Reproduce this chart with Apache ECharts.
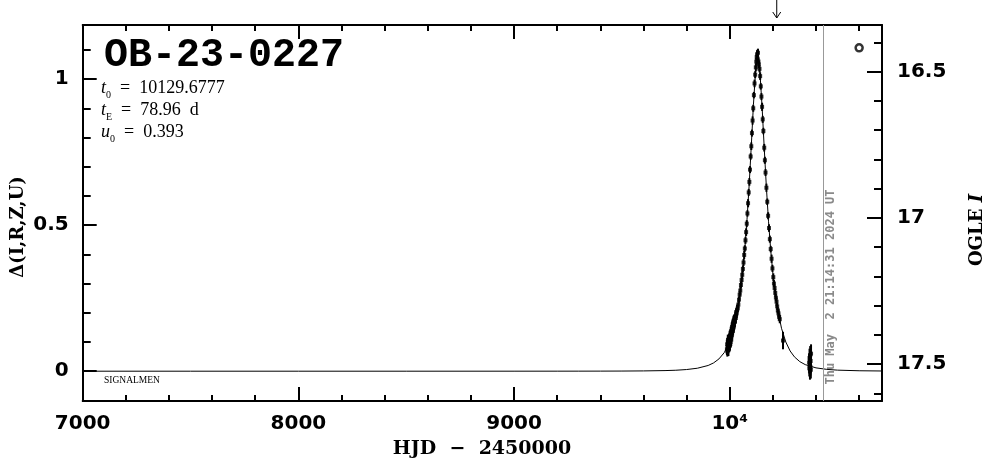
<!DOCTYPE html>
<html><head><meta charset="utf-8">
<script src="https://cdn.jsdelivr.net/npm/echarts@6/dist/echarts.min.js"></script>
<style>html,body{margin:0;padding:0;background:#fff}#c{width:986px;height:459px}</style>
</head><body><div id="c"></div>
<script>
// ---- data ----
const modelT = [7000,7500,8000,8500,9000,9200,9300,9400,9500,9600,9700,9750,9800,9850,9900,9925,9950,9975,10000,10020,10040,10050,10060,10070,10080,10090,10100,10110,10120,10125,10130,10135,10140,10150,10160,10170,10180,10190,10200,10210,10220,10240,10260,10280,10300,10325,10350,10400,10450,10500,10600,10706];
const modelD = [0,0,0,0.00001,0.00005,0.0001,0.0002,0.0003,0.0005,0.0010,0.0021,0.0033,0.0057,0.0102,0.0196,0.0283,0.0420,0.0640,0.1011,0.1488,0.2233,0.2750,0.3395,0.4197,0.5182,0.6366,0.7725,0.9137,1.0295,1.0635,1.0740,1.0604,1.0237,0.9047,0.7633,0.6284,0.5113,0.4140,0.3349,0.2713,0.2203,0.1470,0.0999,0.0693,0.0490,0.0327,0.0225,0.0114,0.0063,0.0036,0.0015,0.0007];

const obsT = [9987,9988,9989,9990,9991,9992,9993,9994,9995,9996,9997,9998,9999,10000,10001,10002,10003,10004,10005,10006,10007,10008,10009,10010,10011,10012,10013,10014,10015,10016,10017,10018,10019,10020,10022,10024,10026,10028,10030,10032,10034,
 10037,10040,10043,10046,10049,10052,10055,10058,10061,10064,10067,10070,10073,10076,10079,10082,10085,10088,10091,10094,10097,10100,10103,10106,10109,10112,10115,10118,10121,10123,10125,10127,10129,10131,10133,10135,
 10138,10141,10144,10147,10150,10153,10156,10160,10163,10166,10170,10174,10178,10182,10186,10190,10194,10198,10202,10205,10208,10211,10214,10217,10220,10223,10226,10229,10232,
 10247,
 10368,10369,10370,10371,10372,10373,10374,10375,10376,10377];
const obsD = [0.075,0.092,0.068,0.083,0.101,0.079,0.088,0.072,0.097,0.110,0.085,0.094,0.106,0.118,0.090,0.112,0.125,0.100,0.131,0.117,0.108,0.138,0.124,0.146,0.129,0.152,0.137,0.160,0.143,0.155,0.168,0.150,0.172,0.162,0.176,0.170,0.188,0.182,0.195,0.200,0.208,
 0.215,0.228,0.245,0.262,0.276,0.295,0.312,0.330,0.350,0.372,0.398,0.420,0.448,0.476,0.505,0.540,0.575,0.612,0.648,0.690,0.735,0.770,0.815,0.858,0.900,0.945,0.985,1.015,1.040,1.060,1.075,1.085,1.070,1.090,1.060,1.050,
 1.035,1.010,0.975,0.940,0.905,0.862,0.822,0.765,0.722,0.680,0.628,0.580,0.532,0.490,0.452,0.418,0.385,0.352,0.322,0.300,0.285,0.268,0.252,0.238,0.222,0.208,0.198,0.186,0.178,
 0.105,
 0.030,0.010,0.045,0.020,0.000,0.055,0.015,0.035,0.005,0.060];
const obsE = [0.020,0.022,0.018,0.020,0.024,0.019,0.021,0.020,0.022,0.018,0.020,0.023,0.019,0.021,0.020,0.022,0.018,0.020,0.021,0.019,0.022,0.020,0.018,0.021,0.020,0.019,0.022,0.020,0.018,0.021,0.020,0.019,0.020,0.022,0.018,0.020,0.021,0.019,0.020,0.018,0.020,
 0.012,0.013,0.011,0.012,0.014,0.012,0.011,0.013,0.012,0.012,0.014,0.011,0.012,0.013,0.012,0.011,0.014,0.012,0.013,0.012,0.011,0.013,0.012,0.014,0.012,0.011,0.013,0.012,0.014,0.012,0.013,0.015,0.012,0.014,0.013,0.012,
 0.012,0.013,0.011,0.012,0.014,0.012,0.011,0.013,0.012,0.012,0.014,0.011,0.012,0.013,0.012,0.011,0.014,0.012,0.013,0.012,0.011,0.013,0.012,0.014,0.012,0.011,0.013,0.012,0.014,
 0.030,
 0.030,0.028,0.032,0.030,0.029,0.031,0.030,0.028,0.030,0.032];

const baseCircle = [10600, 1.107];
const nowLineT = 10434;
const arrowT = 10218;

const xMajor = [7000,8000,9000,10000];
const xLabels = ['7000','8000','9000','10\u2074'];
const xMinor = [7200,7400,7600,7800,8000,8200,8400,8600,8800,9000,9200,9400,9600,9800,10000,10200,10400,10600];
const yMajor = [0,0.5,1];
const yLabels = ['0','0.5','1'];
const yMinor = [-0.1,0,0.1,0.2,0.3,0.4,0.5,0.6,0.7,0.8,0.9,1.0,1.1];
const magMajor = [16.5,17,17.5];
const magLabels = ['16.5','17','17.5'];
const magMinor = [16.4,16.5,16.6,16.7,16.8,16.9,17.0,17.1,17.2,17.3,17.4,17.5,17.6];

const X_MIN = 7000, X_MAX = 10706, Y_MIN = -0.102, Y_MAX = 1.185, M_MIN = 16.341, M_MAX = 17.626;

// ---- chart ----
const chart = echarts.init(document.getElementById('c'), null, {renderer:'canvas'});
const black = '#000';
const lblFont = {fontFamily:'DejaVu Sans', fontWeight:'bold', fontSize:20, color:black};
function xAx(pos, major, withLine, withLabel){
  return {type:'value', position:pos, min:X_MIN, max:X_MAX, gridIndex:0,
    axisLine:{show:withLine, onZero:false, lineStyle:{color:black, width:2}},
    axisTick:{show:true, inside:true, length: major?14:6, lineStyle:{color:black,width:2}, customValues: major?xMajor:xMinor},
    axisLabel:withLabel?Object.assign({show:true, margin:13, customValues:xMajor,
      formatter:(v)=>{const i=xMajor.indexOf(v);return i>=0?xLabels[i]:'';}}, lblFont):{show:false},
    splitLine:{show:false}, minorTick:{show:false}};
}
function yAx(pos, major, withLine, withLabel, mag){
  const mn = mag?M_MIN:Y_MIN, mx = mag?M_MAX:Y_MAX;
  const maj = mag?magMajor:yMajor, min_ = mag?magMinor:yMinor, labs = mag?magLabels:yLabels;
  return {type:'value', position:pos, min:mn, max:mx, inverse:!!mag, gridIndex:0,
    axisLine:{show:withLine, onZero:false, lineStyle:{color:black, width:2}},
    axisTick:{show:true, inside:true, length: major?(mag?15:14):8, lineStyle:{color:black,width:2}, customValues: major?maj:min_},
    axisLabel:withLabel?Object.assign({show:true, margin: mag?15:14, customValues:maj,
      formatter:(v)=>{for(let i=0;i<maj.length;i++){if(Math.abs(maj[i]-v)<1e-6)return labs[i];}return '';}}, lblFont):{show:false},
    splitLine:{show:false}, minorTick:{show:false}};
}

const option = {
  animation:false,
  backgroundColor:'#fff',
  grid:{left:82.7, right:104, top:25, bottom:58, containLabel:false},
  xAxis:[xAx('bottom',true,true,true), xAx('bottom',false,false,false), xAx('top',true,true,false), xAx('top',false,false,false)],
  yAxis:[yAx('left',true,true,true,false), yAx('left',false,false,false,false), yAx('right',true,true,true,true), yAx('right',false,false,false,true)],
  series:[
    {type:'line', name:'model', xAxisIndex:0, yAxisIndex:0, data:modelT.map((t,i)=>[t,modelD[i]]),
     showSymbol:false, symbol:'none', smooth:false, lineStyle:{color:black,width:1}, z:2,
     markLine:{silent:true, symbol:['none','none'], label:{show:false}, lineStyle:{color:'#999',width:1,type:'solid'},
       data:[{xAxis:nowLineT}]}},
    {type:'custom', name:'err', xAxisIndex:0, yAxisIndex:0, z:3,
     data:obsT.map((t,i)=>[t,obsD[i],obsE[i]]),
     renderItem:(params, api)=>{
       const x=api.value(0), y=api.value(1), e=api.value(2);
       const p1=api.coord([x,y-e]), p2=api.coord([x,y+e]);
       return {type:'line', shape:{x1:p1[0],y1:p1[1],x2:p2[0],y2:p2[1]}, style:{stroke:black,lineWidth:2}};
     }},
    {type:'scatter', name:'obs', xAxisIndex:0, yAxisIndex:0, z:4,
     data:obsT.map((t,i)=>[t,obsD[i]]), symbol:'rect', symbolSize:[4,4], itemStyle:{color:black}},
    {type:'scatter', name:'mark', xAxisIndex:0, yAxisIndex:0, z:4,
     data:[baseCircle], symbol:'circle', symbolSize:7, itemStyle:{color:'#fff', borderColor:black, borderWidth:2.5}}
  ]
};
chart.setOption(option);

// text & annotations
const nowX = chart.convertToPixel({xAxisIndex:0}, nowLineT);
const arX = chart.convertToPixel({xAxisIndex:0}, arrowT);
const subRich = {
  i:{fontFamily:'Liberation Serif', fontStyle:'italic', fontSize:18, lineHeight:24, verticalAlign:'middle', color:black},
  n:{fontFamily:'Liberation Serif', fontSize:18, lineHeight:24, verticalAlign:'middle', color:black},
  s:{fontFamily:'Liberation Serif', fontSize:10, lineHeight:12, verticalAlign:'bottom', color:black}
};
chart.setOption({graphic:[
  {type:'text', x:104, y:56, style:{text:'OB-23-0227', font:'bold 40px "Liberation Mono"', fill:black, align:'left', verticalAlign:'middle'}},
  {type:'text', x:101, y:88, style:{text:'{i|t}{s|0}{n|  =  10129.6777}', rich:subRich, align:'left', verticalAlign:'middle'}},
  {type:'text', x:101, y:110, style:{text:'{i|t}{s|E}{n|  =  78.96  d}', rich:subRich, align:'left', verticalAlign:'middle'}},
  {type:'text', x:101, y:132, style:{text:'{i|u}{s|0}{n|  =  0.393}', rich:subRich, align:'left', verticalAlign:'middle'}},
  {type:'text', x:104, y:380, style:{text:'SIGNALMEN', font:'9.5px "Liberation Serif"', fill:black, align:'left', verticalAlign:'middle'}},
  {type:'text', x:nowX+7.5, y:287, rotation:Math.PI/2, style:{text:'Thu May  2 21:14:31 2024 UT', font:'bold 12px "DejaVu Sans Mono"', fill:'#8a8a8a', align:'center', verticalAlign:'middle'}},
  {type:'text', x:18, y:227, rotation:Math.PI/2, style:{text:'\u0394(I,R,Z,U)', font:'bold 18px "DejaVu Serif"', fill:black, align:'center', verticalAlign:'middle'}},
  {type:'text', x:977, y:230, rotation:Math.PI/2, style:{text:'OGLE {it|I}', rich:{it:{fontFamily:'DejaVu Serif', fontWeight:'bold', fontStyle:'italic', fontSize:18, color:black}}, font:'bold 18px "DejaVu Serif"', fill:black, align:'center', verticalAlign:'middle'}},
  {type:'text', x:482, y:449, style:{text:'HJD  \u2212  2450000', font:'bold 19px "DejaVu Serif"', fill:black, align:'center', verticalAlign:'middle'}},
  {type:'line', shape:{x1:arX, y1:0, x2:arX, y2:18}, style:{stroke:black, lineWidth:1}},
  {type:'polyline', shape:{points:[[arX-4,12],[arX,18],[arX+4,12]]}, style:{stroke:black, lineWidth:1, fill:null}}
]});
</script>
</body></html>
